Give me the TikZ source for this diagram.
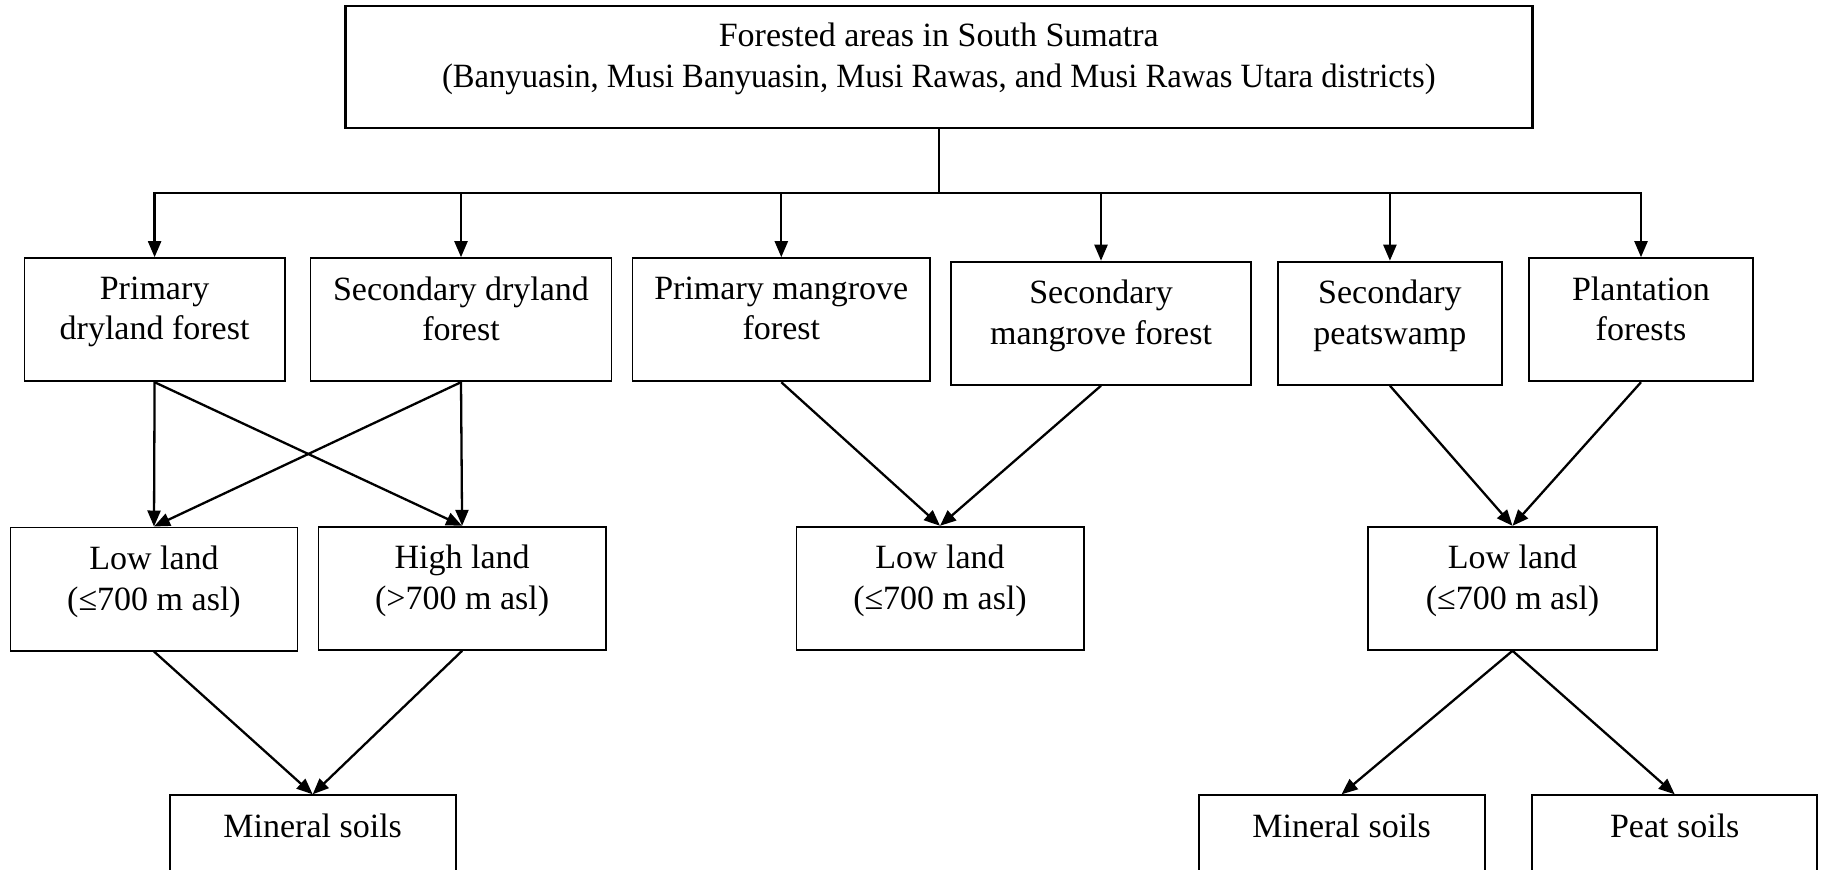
\documentclass[tikz,border=0pt]{standalone}
\usepackage{fontspec}
\setmainfont{Liberation Serif}
\usetikzlibrary{arrows.meta}
\begin{document}
\begin{tikzpicture}[x=0.5pt,y=-0.5pt,
  box/.style n args={2}{draw, line width=0.9pt, inner sep=0pt,
    minimum width=#1*0.5pt, minimum height=#2*0.5pt},
  lbl/.style={anchor=north, inner sep=0pt, align=center,
    font=\fontsize{17}{20.3}\selectfont},
  arr/.style={line width=1.15pt, -{Triangle[length=8pt,width=6.5pt]}},
  bus/.style={line width=1.15pt}]
\useasboundingbox (0,0) rectangle (1823,869);
\clip (0,0) rectangle (1823,869);
\fill[white] (0,0) rectangle (1823,869);
% top
\node[box={1187}{122}, line width=1.2pt] (top) at (938.8,66.8) {};
\node[lbl] (toptxt) at ([yshift=-9pt]top.north) {Forested areas in South Sumatra\\{\addfontfeatures{FakeStretch=0.96}(Banyuasin, Musi Banyuasin, Musi Rawas, and Musi Rawas Utara districts)}};
% row 1
\node[box={260.4}{123.2}] (pdf) at (154.6,319.7) {};
\node[box={301}{123.2}] (sdf) at (461,319.7) {};
\node[box={297.6}{123.2}] (pmf) at (781.3,319.7) {};
\node[box={300}{123.2}] (smf) at (1101,323.2) {};
\node[box={224.4}{123.2}] (sps) at (1389.9,323.2) {};
\node[box={224.4}{123.2}] (plf) at (1641,319.7) {};
\node[lbl] (pdft) at ([yshift=-9.5pt]pdf.north) {Primary\\dryland forest};
\node[lbl] (sdft) at ([yshift=-9.5pt]sdf.north) {Secondary dryland\\forest};
\node[lbl] (pmft) at ([yshift=-9.5pt]pmf.north) {Primary mangrove\\forest};
\node[lbl] (smft) at ([yshift=-9.5pt]smf.north) {Secondary\\mangrove forest};
\node[lbl] (spst) at ([yshift=-9.5pt]sps.north) {Secondary\\peatswamp};
\node[lbl] (plft) at ([yshift=-9.5pt]plf.north) {Plantation\\forests};
% row 2
\node[box={287}{123.2}] (ll1) at (154,589) {};
\node[box={287.2}{123.2}] (hl) at (462.1,588.3) {};
\node[box={287.2}{123.2}] (ll2) at (940,588.3) {};
\node[box={288.3}{123.2}] (ll3) at (1512.5,588.3) {};
\node[lbl] (ll1t) at ([yshift=-9.5pt]ll1.north) {Low land\\(≤700 m asl)};
\node[lbl] (hlt) at ([yshift=-9.5pt]hl.north) {High land\\(>700 m asl)};
\node[lbl] (ll2t) at ([yshift=-9.5pt]ll2.north) {Low land\\(≤700 m asl)};
\node[lbl] (ll3t) at ([yshift=-9.5pt]ll3.north) {Low land\\(≤700 m asl)};
% row 3
\node[box={286}{123.2}] (ms1) at (312.7,856.8) {};
\node[box={286}{123.2}] (ms2) at (1341.6,856.8) {};
\node[box={284.8}{123.2}] (ps) at (1674.7,856.8) {};
\node[lbl] (ms1t) at ([yshift=-9.5pt]ms1.north) {Mineral soils};
\node[lbl] (ms2t) at ([yshift=-9.5pt]ms2.north) {Mineral soils};
\node[lbl] (pst) at ([yshift=-9.5pt]ps.north) {Peat soils};
% connectors
\coordinate (busc) at (938.8,193);
\draw[bus] (top.south) -- (busc);
\foreach \t in {pdf,sdf,pmf,smf,sps,plf} \draw[arr] (busc) -| (\t.north);
\draw[arr] (pdf.south) -- (ll1.north);
\draw[arr] (pdf.south) -- (hl.north);
\draw[arr] (sdf.south) -- (ll1.north);
\draw[arr] (sdf.south) -- (hl.north);
\draw[arr] (pmf.south) -- (ll2.north);
\draw[arr] (smf.south) -- (ll2.north);
\draw[arr] (sps.south) -- (ll3.north);
\draw[arr] (plf.south) -- (ll3.north);
\draw[arr] (ll1.south) -- (ms1.north);
\draw[arr] (hl.south) -- (ms1.north);
\draw[arr] (ll3.south) -- (ms2.north);
\draw[arr] (ll3.south) -- (ps.north);
\end{tikzpicture}
\end{document}
